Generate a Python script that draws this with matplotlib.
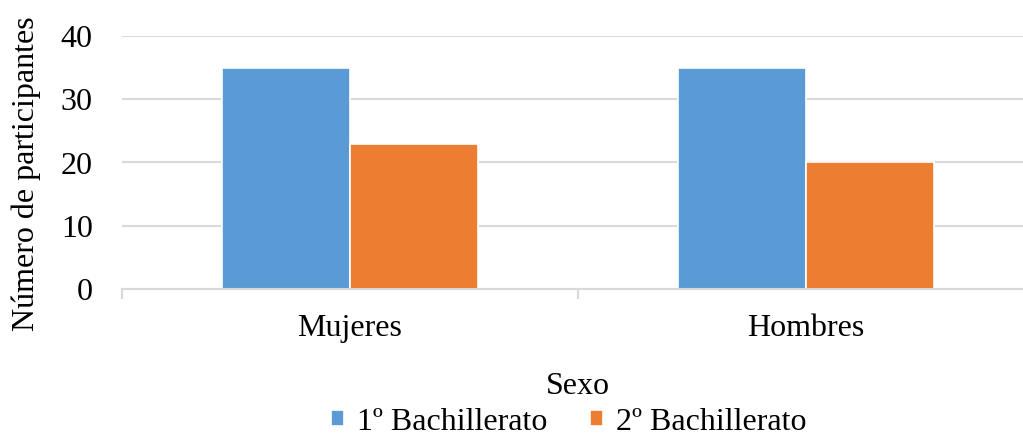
import matplotlib.pyplot as plt
import numpy as np

# Participantes por sexo y curso
sexos = ["Mujeres", "Hombres"]
primero = [35, 35]
segundo = [23, 20]
cursos = ["1º Bachillerato", "2º Bachillerato"]
colores = ["#5B9BD5", "#ED7D31"]

plt.rcParams['font.family'] = ['Liberation Serif', 'DejaVu Serif']
tam = 23

fig = plt.figure(figsize=(10.23, 4.38), dpi=100)
ax = fig.add_axes([122 / 1023, 1 - 289 / 438, (1034 - 122) / 1023, (289 - 36) / 438])

x = np.arange(len(sexos))
ancho = 0.28
ax.bar(x - ancho / 2, primero, ancho, color=colores[0], edgecolor="white",
       linewidth=1.2, label=cursos[0], zorder=3)
ax.bar(x + ancho / 2, segundo, ancho, color=colores[1], edgecolor="white",
       linewidth=1.2, label=cursos[1], zorder=3)

ax.set_xlim(-0.5, 1.5)
ax.set_ylim(0, 40)
ax.set_yticks([0, 10, 20, 30, 40])
ax.set_xticks(x)
ax.set_xticklabels(sexos)
ax.set_xticks([-0.5, 0.5, 1.5], minor=True)

ax.grid(axis="y", color="#D9D9D9", linewidth=1.5, zorder=0)
for lado in ["top", "right", "left"]:
    ax.spines[lado].set_visible(False)
ax.spines["bottom"].set_color("#D9D9D9")
ax.spines["bottom"].set_linewidth(1.5)
ax.spines["bottom"].set_zorder(4)

ax.tick_params(axis="y", length=0, pad=21, labelsize=tam)
ax.tick_params(axis="x", which="major", length=0, pad=18, labelsize=tam)
ax.tick_params(axis="x", which="minor", length=7, width=1.5, color="#D9D9D9")

ax.set_ylabel("Número de participantes", fontsize=tam)
ax.yaxis.set_label_coords(-0.089, 0.455)
ax.set_xlabel("Sexo", fontsize=tam)
ax.xaxis.set_label_coords(0.5, -0.33)

fig.legend(loc="center", bbox_to_anchor=(0.556, 0.036), ncol=2,
           frameon=False, fontsize=tam, handlelength=0.4, handleheight=0.4,
           handletextpad=0.4, columnspacing=1.35, borderpad=0)

fig.savefig("out.png", dpi=100)
